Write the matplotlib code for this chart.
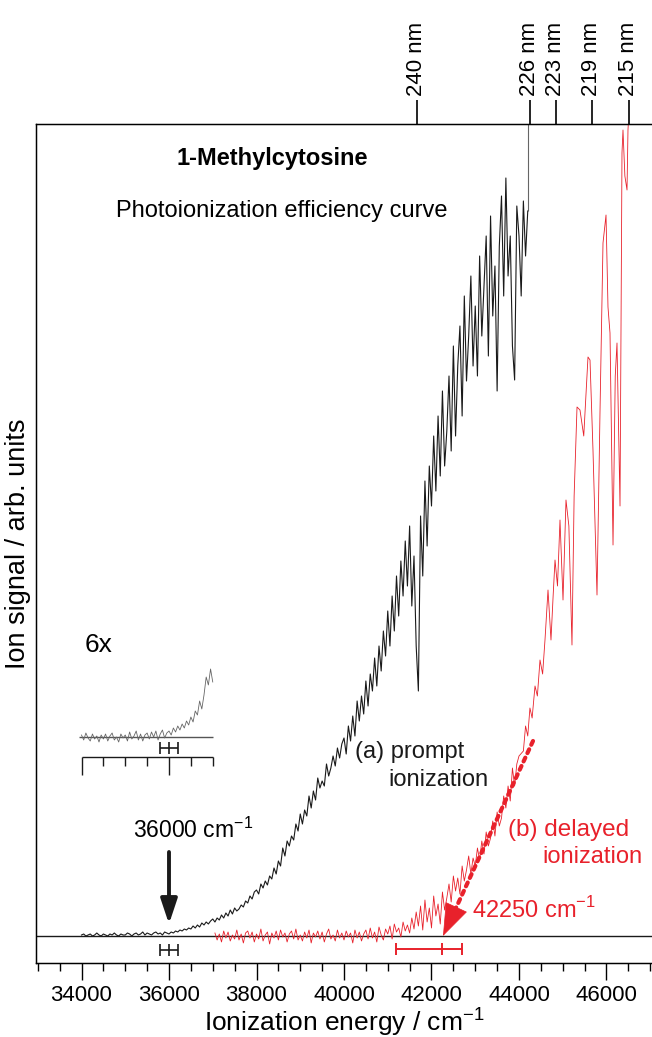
import numpy as np
import matplotlib
matplotlib.use("Agg")
import matplotlib.pyplot as plt

plt.rcParams['font.family'] = ['Liberation Sans', 'DejaVu Sans']
plt.rcParams['mathtext.fontset'] = 'custom'
plt.rcParams['mathtext.rm'] = 'Liberation Sans'

RED = '#e8212b'
DARK = '#1a1a1a'

# (a) prompt ionization, 34000..44200 cm-1 in 50 cm-1 steps (arb. units)
prompt_start, prompt_step = 34000, 50
prompt_signal = [
    1, 2, 0, 1, 2, 0, 1, 3, 1, 0,
    2, 1, 0, 2, 1, 3, 1, 0, 2, 1,
    1, 3, 2, 0, 2, 3, 1, 2, 4, 1,
    3, 2, 1, 3, 4, 2, 3, 1, 4, 3,
    2, 4, 3, 5, 4, 6, 5, 7, 6, 8,
    7, 10, 8, 11, 9, 13, 11, 14, 12, 15,
    17, 14, 18, 16, 21, 18, 23, 20, 26, 22,
    28, 25, 27, 31, 29, 35, 33, 40, 37, 44,
    46, 42, 52, 48, 55, 51, 60, 57, 68, 62,
    75, 70, 88, 80, 95, 90, 100, 96, 112, 105,
    122, 112, 126, 120, 140, 128, 145, 136, 158, 148,
    155, 150, 172, 160, 168, 180, 170, 188, 178, 192,
    198, 182, 210, 195, 220, 200, 235, 215, 240, 222,
    255, 230, 262, 245, 278, 250, 290, 265, 305, 280,
    325, 290, 340, 305, 360, 320, 375, 340, 395, 350,
    410, 330, 380, 290, 245, 420, 360, 455, 390, 470,
    430, 500, 445, 520, 460, 545, 470, 505, 560, 485,
    590, 500, 570, 610, 520, 640, 555, 600, 660, 570,
    630, 560, 680, 600, 650, 700, 580, 720, 620, 670,
    545, 690, 740, 640, 758, 660, 700, 590, 556, 730,
    700, 640, 735, 680, 725,
]

# (b) delayed ionization, 37050..44000 cm-1 in 50 cm-1 steps
delayed_start, delayed_step = 37050, 50
delayed_signal = [
    3, -4, 2, -6, 5, -2, 4, -5, 1,
    -3, 6, -4, 2, -7, 3, 5, -2, 4, -6,
    2, -3, 7, -5, 1, 4, -8, 3, -2, 5,
    -4, 6, -1, 3, -6, 2, 5, -3, 7, -4,
    1, -5, 4, -2, 6, -7, 3, -1, 5, -3,
    4, -6, 2, 7, -3, 1, -5, 6, -2, 3,
    -4, 5, -1, 3, -7, 6, -2, 4, -5, 2,
    6, -3, 8, -2, 4, -6, 9, 1, -4, 7,
    2, 10, -3, 12, 4, 8, -1, 14, 5, 11,
    3, 18, 7, 24, 10, 30, 6, 36, 14, 28,
    8, 40, 20, 32, 12, 44, 26, 38, 52, 34,
    60, 45, 58, 42, 70, 55, 66, 80, 62, 78,
    70, 88, 76, 95, 82, 104, 90, 98, 115, 100,
    124, 110, 118, 140, 128, 150, 135, 168, 150, 172,
    180,
]
# (b) upper part, read point by point
delayed_hi_e = [44100, 44150, 44200, 44250, 44300, 44366, 44420, 44480,
                44540, 44594, 44663, 44731, 44780, 44823, 44880, 44937, 45006,
                45074, 45140, 45211, 45260, 45326, 45394, 45480, 45577, 45623,
                45691, 45783, 45851, 45920, 45989, 46034, 46080, 46149, 46200,
                46240, 46309, 46354, 46377, 46420, 46469, 46491, 46520]
delayed_hi = [185, 210, 200, 228, 218, 250, 240, 276,
              262, 296, 346, 296, 340, 376, 350, 416, 336,
              436, 410, 291, 440, 529, 526, 500, 579, 576,
              486, 341, 523, 693, 721, 629, 603, 391, 560,
              593, 430, 783, 806, 760, 746, 806, 830]

# 6x magnified threshold region (inset), 34000..37000 cm-1 in 50 cm-1 steps
inset_start, inset_step = 34000, 50
inset_signal = [
    2, -3, 4, -1, -4, 3, -2, 1, -5, 2,
    -2, 3, -4, 1, 4, -3, 0, -5, 3, -1,
    2, -4, 5, -2, 1, 6, -3, 3, -4, 2,
    4, -2, 5, 0, 6, -3, 3, 7, -1, 4,
    6, 2, 9, 5, 11, 7, 13, 9, 16, 12,
    20, 15, 26, 22, 36, 28, 42, 60, 52, 68,
    55,
]

top_nm = [240, 226, 223, 219, 215]

onset_prompt = 36000
onset_prompt_err = 200
onset_delayed = 42250
onset_delayed_err = [1050, 450]

prompt_e = prompt_start + prompt_step * np.arange(len(prompt_signal))
delayed_e = np.concatenate([delayed_start + delayed_step * np.arange(len(delayed_signal)), delayed_hi_e])
delayed_y = np.concatenate([delayed_signal, delayed_hi])
inset_e = inset_start + inset_step * np.arange(len(inset_signal))

fig = plt.figure(figsize=(6.52, 10.37), dpi=100)
ax = fig.add_axes([36/652, 1 - 963/1037, 616/652, 839/1037])
ax.set_xlim(32960, 47040)
ax.set_ylim(-27, 812)

# zero line and spectra
ax.axhline(0, color=DARK, lw=1.0, zorder=1)
ax.plot(delayed_e, delayed_y, color=RED, lw=0.6, zorder=2)
ax.plot(prompt_e, prompt_signal, color=DARK, lw=0.8, zorder=3)
ax.vlines(prompt_e[-1], prompt_signal[-1], 812, color='#666666', lw=0.8)

# inset (6x)
inset_base = 199
ax.hlines(inset_base, 33950, 37000, color='#555555', lw=1.0)
ax.plot(inset_e, inset_base + np.array(inset_signal), color='#666666', lw=0.6)
ax.hlines(179, 34000, 37000, color=DARK, lw=1.0)
for e in np.arange(34000, 37001, 500):
    ax.vlines(e, 161 if e % 2000 == 0 else 170, 179, color=DARK, lw=1.0)
ax.errorbar(onset_prompt, 188, xerr=onset_prompt_err, fmt='|', ms=8, mew=1.2,
            color=DARK, capsize=4, elinewidth=1.2, capthick=1.2)
ax.text(34080, 291, '6x', fontsize=19, va='center', ha='left')

# onset error bars below the zero line
ax.errorbar(onset_prompt, -14, xerr=onset_prompt_err, fmt='|', ms=8, mew=1.2,
            color=DARK, capsize=4, elinewidth=1.2, capthick=1.2)
ax.errorbar(onset_delayed, -13, xerr=[[onset_delayed_err[0]], [onset_delayed_err[1]]],
            fmt='|', ms=8, mew=1.4, color=RED, capsize=4, elinewidth=1.4, capthick=1.4)

# arrows
ax.annotate('', xy=(onset_prompt, 12), xytext=(onset_prompt, 84),
            arrowprops=dict(arrowstyle='-|>,head_length=1.5,head_width=0.5',
                            mutation_scale=10, lw=2.8, color=DARK,
                            shrinkA=0, shrinkB=0))
ax.annotate('', xy=(42485, 21), xytext=(44320, 195),
            arrowprops=dict(arrowstyle='-', lw=3, ls=(0, (1, 1.2)), color=RED,
                            shrinkA=0, shrinkB=0))
ax.annotate('', xy=(42263, 0), xytext=(42485, 21),
            arrowprops=dict(arrowstyle='-|>,head_length=2.2,head_width=0.8',
                            mutation_scale=10, lw=0.5, color=RED,
                            shrinkA=0, shrinkB=0))

# labels
fs = 17
ax.text(35177, 106, r'36000 cm$^{\mathregular{-1}}$', fontsize=16.5, va='center')
ax.text(42926, 26, r'42250 cm$^{\mathregular{-1}}$', fontsize=fs, va='center', color=RED)
ax.text(40251, 184, '(a) prompt', fontsize=fs, va='center', color=DARK)
ax.text(41006, 156, 'ionization', fontsize=fs, va='center', color=DARK)
ax.text(43749, 106, '(b) delayed', fontsize=17.5, va='center', color=RED)
ax.text(44526, 79, 'ionization', fontsize=fs, va='center', color=RED)
ax.text(36180, 778, '1-Methylcytosine', fontsize=17, fontweight='bold', va='center')
ax.text(34780, 725, 'Photoionization efficiency curve', fontsize=17, va='center')

ax.set_xlabel(r'Ionization energy / cm$^{\mathregular{-1}}$', fontsize=19)
ax.xaxis.set_label_coords(0.5, (963 - 1005) / 839)
ax.set_ylabel('Ion signal / arb. units', fontsize=19.5)
ax.yaxis.set_label_coords(-0.008, 0.5)

ax.set_xticks(np.arange(34000, 46001, 2000))
ax.set_xticks(np.arange(33000, 47001, 500), minor=True)
ax.tick_params(axis='x', which='major', direction='out', length=12, width=1.0,
               labelsize=16, pad=4)
ax.tick_params(axis='x', which='minor', direction='out', length=6, width=1.0)
ax.set_yticks([])
ax.spines['right'].set_visible(False)
for s in ['left', 'bottom', 'top']:
    ax.spines[s].set_linewidth(1.0)

# wavelength axis on top
ax2 = ax.twiny()
ax2.set_xlim(ax.get_xlim())
ax2.set_xticks([1e7 / nm for nm in top_nm])
ax2.set_xticklabels(['%d nm' % nm for nm in top_nm], rotation=90, fontsize=16)
ax2.tick_params(axis='x', direction='out', length=17, width=1.2, pad=3)
ax2.spines['right'].set_visible(False)

fig.savefig('out.png', dpi=100)
